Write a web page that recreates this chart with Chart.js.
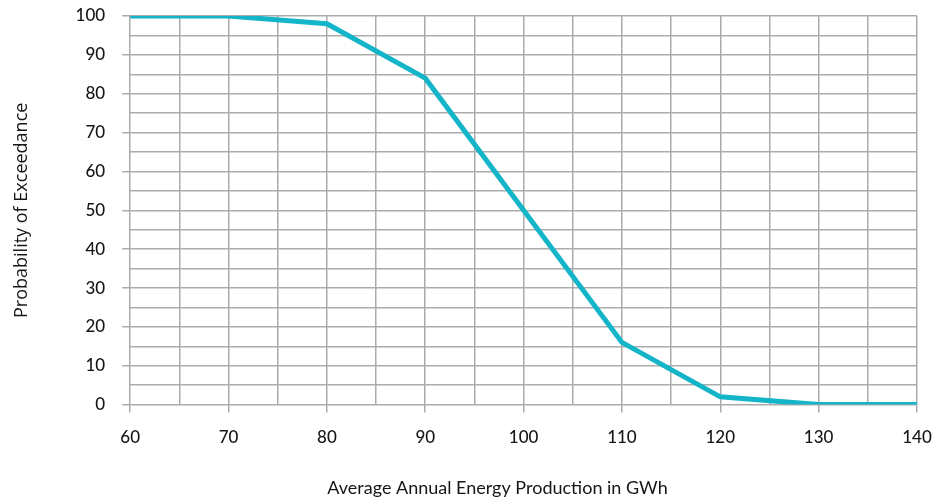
<!DOCTYPE html>
<html>
<head>
<meta charset="utf-8">
<script src="https://cdn.jsdelivr.net/npm/chart.js@4"></script>
<style>
    html, body { margin: 0; padding: 0; background: #ffffff; }
    #wrap { width: 937px; height: 501px; }
</style>
</head>
<body>
<div id="wrap"><canvas id="chart"></canvas></div>
<script>
// Exceedance curve values
const energyGWh = [60, 70, 80, 90, 100, 110, 120, 130, 140];
const exceedance = [100, 100, 98, 84, 50, 16, 2, 0, 0];

const xTitle = 'Average Annual Energy Production in GWh';
const yTitle = 'Probability of Exceedance';

const lineColor = '#14b5c8';
const gridColor = '#ababab';
const textColor = '#161616';

// hide tick marks on minor (every 5) lines
const majorTick = (ctx) => (ctx.tick && ctx.tick.value % 10 === 0) ? gridColor : 'rgba(0,0,0,0)';

// x title sits a bit left of the plot centre in the original, so draw it by hand
const xTitlePlugin = {
    id: 'xTitle',
    afterDraw(chart) {
        const ctx = chart.ctx;
        ctx.save();
        ctx.font = '18px Lato';
        ctx.fillStyle = textColor;
        ctx.textAlign = 'center';
        ctx.textBaseline = 'middle';
        ctx.fillText(xTitle, chart.width / 2 + 29, chart.height - 13);
        ctx.restore();
    }
};

new Chart(document.getElementById('chart').getContext('2d'), {
    type: 'scatter',
    data: {
        datasets: [{
            data: energyGWh.map((x, i) => ({ x: x, y: exceedance[i] })),
            showLine: true,
            borderColor: lineColor,
            backgroundColor: lineColor,
            borderWidth: 5,
            pointRadius: 0,
            tension: 0
        }]
    },
    options: {
        responsive: true,
        maintainAspectRatio: false,
        animation: false,
        layout: { padding: { top: 0, right: 0, left: 11, bottom: 38 } },
        plugins: {
            legend: { display: false },
            tooltip: { enabled: false }
        },
        scales: {
            x: {
                type: 'linear',
                min: 60,
                max: 140,
                border: { display: false },
                grid: { color: gridColor, lineWidth: 1.5, tickLength: 8, tickColor: majorTick },
                ticks: {
                    stepSize: 5,
                    autoSkip: false,
                    maxRotation: 0,
                    color: textColor,
                    font: { family: 'Lato', size: 17, weight: '500' },
                    padding: 15,
                    callback: (v) => v % 10 === 0 ? v : ''
                },
                afterFit: (scale) => {
                    scale.paddingRight = 20;
                }
            },
            y: {
                min: 0,
                max: 100,
                border: { display: false },
                grid: { color: gridColor, lineWidth: 1.5, tickLength: 8, tickColor: majorTick },
                ticks: {
                    stepSize: 5,
                    autoSkip: false,
                    color: textColor,
                    font: { family: 'Lato', size: 17, weight: '500' },
                    padding: 17,
                    callback: (v) => v % 10 === 0 ? v : ''
                },
                title: {
                    display: true,
                    text: yTitle,
                    color: textColor,
                    font: { family: 'Open Sans', size: 18 },
                    padding: { top: 0, bottom: 26 }
                },
                afterFit: (scale) => {
                    scale.paddingTop = 16;
                }
            }
        }
    },
    plugins: [xTitlePlugin]
});
</script>
</body>
</html>
